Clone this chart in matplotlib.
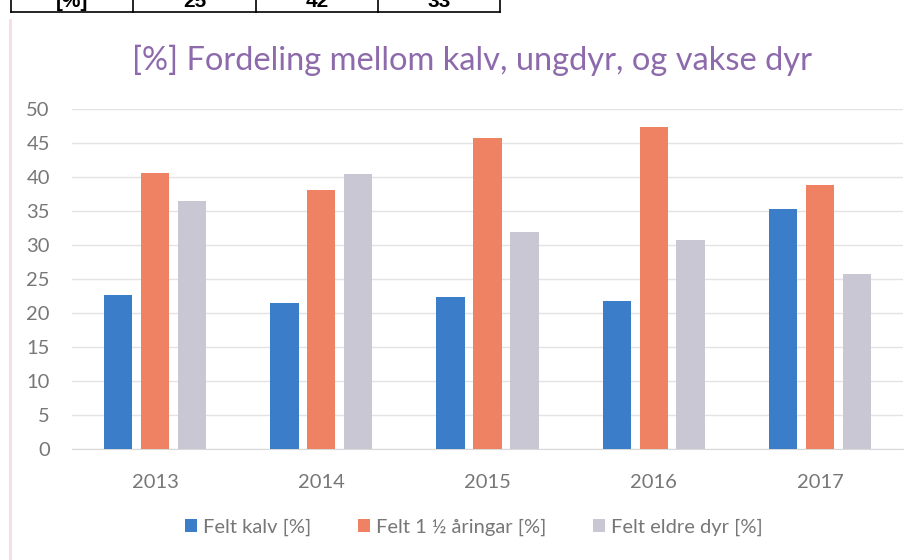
import matplotlib
matplotlib.use("Agg")
import matplotlib.pyplot as plt
import numpy as np

plt.rcParams['font.family'] = ['Lato', 'DejaVu Sans']

# data
years = ["2013", "2014", "2015", "2016", "2017"]
kalv = [22.7, 21.5, 22.3, 21.8, 35.3]
ungdyr = [40.6, 38.1, 45.7, 47.3, 38.8]
eldre = [36.4, 40.4, 31.9, 30.8, 25.8]
series_names = ["Felt kalv [%]", "Felt 1 ½ åringar [%]", "Felt eldre dyr [%]"]
colors = ["#3b7dc8", "#ef8262", "#c9c7d3"]

# table fragment cut off at the top of the scan
table_cells = ["[%]", "25", "42", "33"]

fig = plt.figure(figsize=(9.2, 5.6), dpi=100)
ax = fig.add_axes([72 / 920, 1 - 449 / 560, (903 - 72) / 920, (449 - 109) / 560])

x = np.arange(len(years))
w = 0.17
pitch = 0.222
for i, (vals, name, c) in enumerate(zip([kalv, ungdyr, eldre], series_names, colors)):
    ax.bar(x + (i - 1) * pitch, vals, width=w, color=c, label=name, zorder=3)

ax.set_xlim(-0.5, len(years) - 0.5)
ax.set_ylim(0, 50)
ax.set_yticks(range(0, 51, 5))
ax.set_xticks(x)
ax.set_xticklabels(years)
ax.grid(axis='y', color="#e3e3e3", linewidth=1, zorder=0)
for s in ["top", "right", "left"]:
    ax.spines[s].set_visible(False)
ax.spines["bottom"].set_color("#d9d9d9")
ax.tick_params(axis='both', length=0, colors="#777777", labelsize=14.5)
ax.tick_params(axis='y', pad=16)
ax.tick_params(axis='x', pad=18)

fig.text(0.513, 1 - 60 / 560, "[%] Fordeling mellom kalv, ungdyr, og vakse dyr",
         ha='center', va='center', fontsize=23.5, color="#8d6aab")

fig.legend(loc='center', bbox_to_anchor=(0.515, 1 - 527 / 560), ncol=3, frameon=False,
           fontsize=14.5, labelcolor="#777777", handlelength=0.6, handleheight=0.6,
           handletextpad=0.3, columnspacing=2.3)

# table fragment
edges = [11, 133, 256, 378, 500]
fig.add_artist(plt.Line2D([e / 920 for e in (edges[0], edges[-1])], [1 - 12 / 560] * 2,
                          color="black", linewidth=1.2))
for e in edges:
    fig.add_artist(plt.Line2D([e / 920] * 2, [1 - 12 / 560, 1.0], color="black", linewidth=1.2))
for i, t in enumerate(table_cells):
    cx = (edges[i] + edges[i + 1]) / 2 / 920
    fig.text(cx, 1 - 7 / 560, t, ha='center', va='baseline', fontsize=15,
             fontweight='bold', family='Liberation Sans')

# faint pink edge of the scanned page
fig.add_artist(plt.Line2D([10 / 920] * 2, [0.0, 1 - 20 / 560], color="#f6dde3", linewidth=2))

fig.savefig("out.png", dpi=100)
